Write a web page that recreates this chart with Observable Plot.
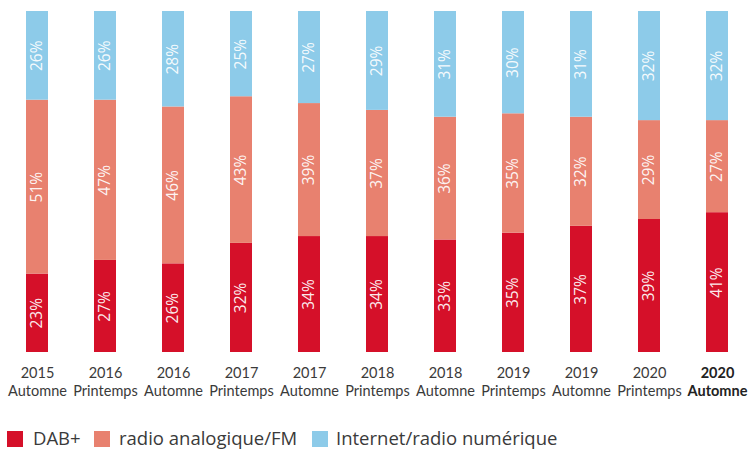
<!DOCTYPE html>
<html>
<head>
<meta charset="utf-8">
<script src="https://cdn.jsdelivr.net/npm/d3@7"></script>
<script src="https://cdn.jsdelivr.net/npm/@observablehq/plot@0.6"></script>
<style>
  body { margin: 0; background: #fff; font-family: "Open Sans", "Noto Sans", sans-serif; }
  #wrap { position: relative; width: 750px; height: 449px; }
  #legend { position: absolute; left: 0; top: 424px; width: 750px; height: 25px; }
  .sw { position: absolute; top: 7px; width: 16px; height: 16px; }
  .lb { position: absolute; top: 1px; font-size: 18.5px; color: #3a3a3a; line-height: 26px; white-space: nowrap; }
</style>
</head>
<body>
<div id="wrap"><div id="chart"></div><div id="legend"></div></div>
<script>
const years = ["2015","2016","2016","2017","2017","2018","2018","2019","2019","2020","2020"];
const seasons = ["Automne","Printemps","Automne","Printemps","Automne","Printemps","Automne","Printemps","Automne","Printemps","Automne"];
const dab = [23,27,26,32,34,34,33,35,37,39,41];
const fm = [51,47,46,43,39,37,36,35,32,29,27];
const internet = [26,26,28,25,27,29,31,30,31,32,32];
const seriesNames = ["DAB+", "radio analogique/FM", "Internet/radio numérique"];
const seriesColors = ["#d51029", "#e8816f", "#8dcbe9"];

const periods = years.map((y, i) => y + " " + seasons[i]);
const seriesValues = [dab, fm, internet];
const data = [];
seriesNames.forEach((s, si) => {
  periods.forEach((p, i) => data.push({period: p, series: s, value: seriesValues[si][i]}));
});
const labels = periods.map((p, i) => ({period: p, year: years[i], season: seasons[i], last: i === periods.length - 1}));
const axisFont = "Lato, 'Open Sans', sans-serif";

const chart = Plot.plot({
  width: 750,
  height: 405,
  marginTop: 11,
  marginBottom: 53,
  marginLeft: 0,
  marginRight: 0,
  style: {fontFamily: "'Open Sans', 'Noto Sans', sans-serif", background: "#fff"},
  x: {type: "band", domain: periods, range: [0, 754], paddingInner: 0.676, paddingOuter: 0.382, axis: null},
  y: {domain: [0, 100], axis: null},
  color: {domain: seriesNames, range: seriesColors},
  marks: [
    Plot.barY(data, Plot.stackY({x: "period", y: "value", z: "series", fill: "series", order: seriesNames})),
    Plot.text(data, Plot.stackY({x: "period", y: "value", z: "series", order: seriesNames,
      text: d => d.value + "%", rotate: -90, fill: "white", fillOpacity: 0.93, fontSize: 15.5})),
    Plot.text(labels.filter(d => !d.last), {x: "period", text: "year", frameAnchor: "bottom", dy: 21, fontSize: 14.5, fontFamily: axisFont, fill: "#3a3a3a", lineAnchor: "middle"}),
    Plot.text(labels.filter(d => !d.last), {x: "period", text: "season", frameAnchor: "bottom", dy: 39, fontSize: 14.5, fontFamily: axisFont, fill: "#3a3a3a", lineAnchor: "middle"}),
    Plot.text(labels.filter(d => d.last), {x: "period", text: "year", frameAnchor: "bottom", dy: 21, fontSize: 14.5, fontFamily: axisFont, fontWeight: "bold", fill: "#222", lineAnchor: "middle"}),
    Plot.text(labels.filter(d => d.last), {x: "period", text: "season", frameAnchor: "bottom", dy: 39, fontSize: 14.5, fontFamily: axisFont, fontWeight: "bold", fill: "#222", lineAnchor: "middle"})
  ]
});
document.getElementById("chart").appendChild(chart);

const legend = document.getElementById("legend");
const swX = [7, 94, 312];
const lbX = [33, 119, 336];
seriesNames.forEach((s, i) => {
  const sw = document.createElement("div");
  sw.className = "sw"; sw.style.left = swX[i] + "px"; sw.style.background = seriesColors[i];
  legend.appendChild(sw);
  const lb = document.createElement("div");
  lb.className = "lb"; lb.style.left = lbX[i] + "px"; lb.textContent = s;
  legend.appendChild(lb);
});
</script>
</body>
</html>
